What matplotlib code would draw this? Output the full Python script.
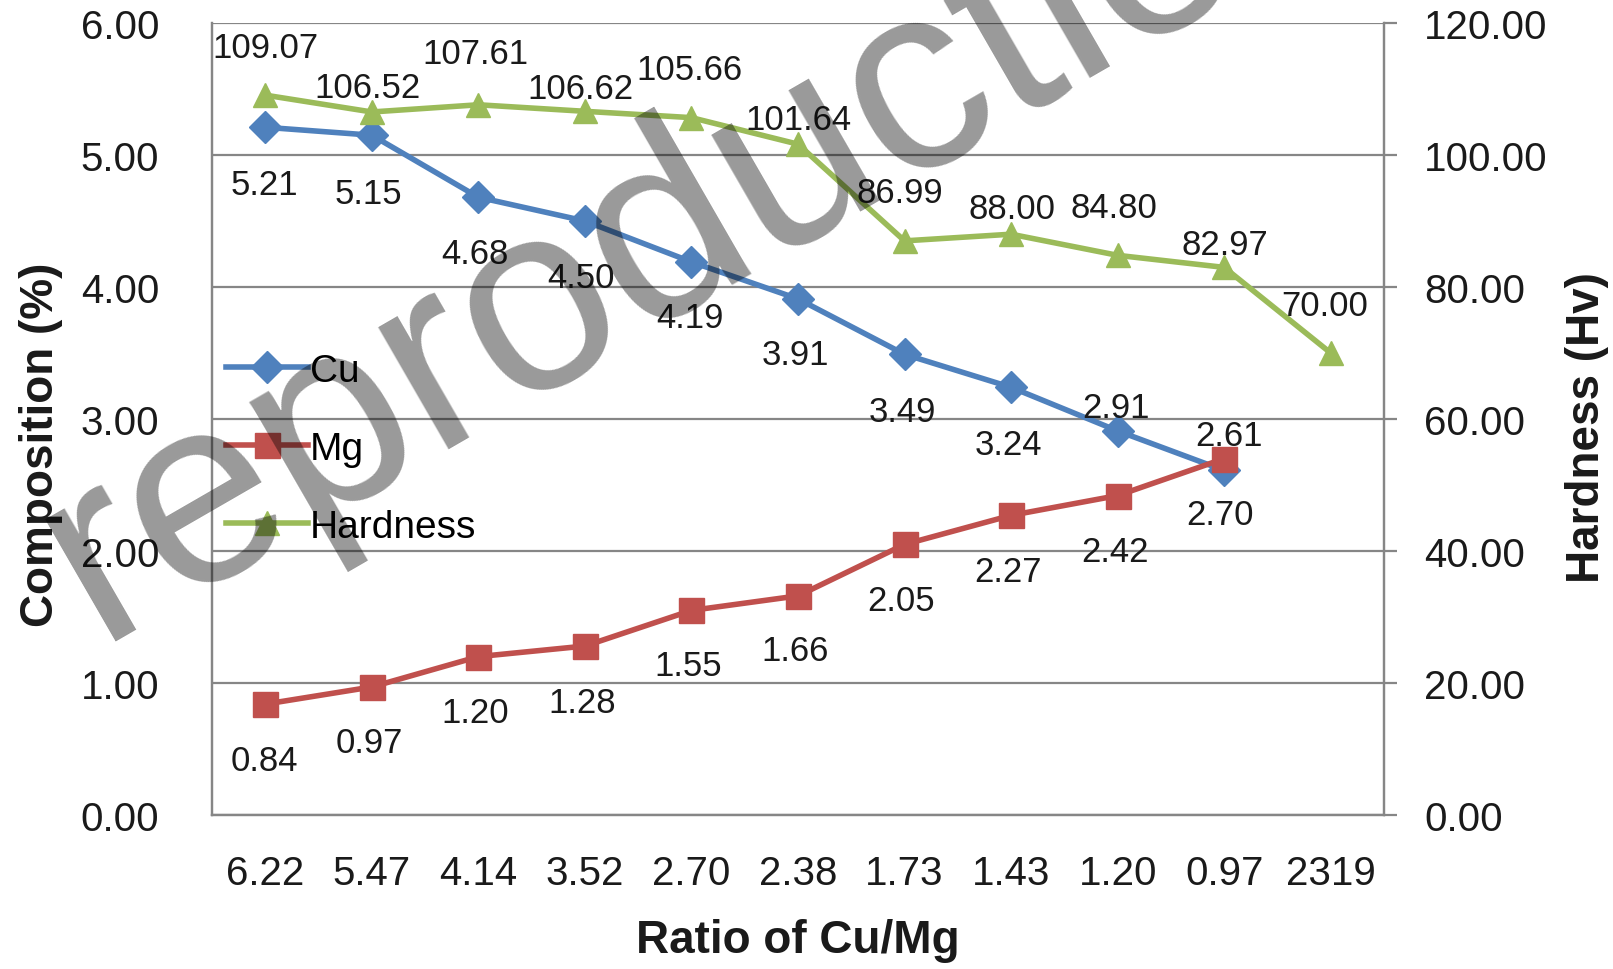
import matplotlib
matplotlib.use("Agg")
import matplotlib.pyplot as plt
from matplotlib.lines import Line2D

plt.rcParams['font.family'] = ['Liberation Sans', 'DejaVu Sans']

# data
ratio_labels = ["6.22", "5.47", "4.14", "3.52", "2.70", "2.38", "1.73", "1.43", "1.20", "0.97", "2319"]
cu = [5.21, 5.15, 4.68, 4.50, 4.19, 3.91, 3.49, 3.24, 2.91, 2.61]
mg = [0.84, 0.97, 1.20, 1.28, 1.55, 1.66, 2.05, 2.27, 2.42, 2.70]
hardness = [109.07, 106.52, 107.61, 106.62, 105.66, 101.64, 86.99, 88.00, 84.80, 82.97, 70.00]

# label offsets in pixels (dx, dy), as placed in the original
cu_off = [(-1, -57), (-3, -58), (-3, -56), (-4, -57), (-2, -56), (-3, -56),
          (-2, -57), (-3, -57), (-2, 23), (5, 35)]
mg_off = [(-1, -56), (-3, -56), (-3, -56), (-3, -56), (-3, -55), (-3, -55),
          (-3, -56), (-3, -56), (-3, -56), (-4, -56)]
hd_off = [(0, 48), (-4, 24), (-3, 51), (-4, 23), (-2, 48), (0, 25),
          (-5, 48), (1, 26), (-4, 48), (1, 23), (-6, 48)]

BLUE = "#4F81BD"
RED = "#C0504D"
GREEN = "#9BBB59"
GRID = "#868686"

W, H = 1613, 970
fig = plt.figure(figsize=(W / 100, H / 100), dpi=100)
ax = fig.add_axes([212 / W, 1 - 816 / H, (1384 - 212) / W, (816 - 24) / H])
ax2 = ax.twinx()

x_cu = list(range(len(cu)))
x_hd = list(range(len(hardness)))

ax.plot(x_cu, cu, color=BLUE, lw=4, marker="D", ms=16, label="Cu", zorder=3)
ax.plot(x_cu, mg, color=RED, lw=4, marker="s", ms=18, label="Mg", zorder=4)
ax2.plot(x_hd, hardness, color=GREEN, lw=4, marker="^", ms=17, label="Hardness", zorder=3)

lab_fs = 25
for xi, v, (dx, dy) in zip(x_cu, cu, cu_off):
    ax.annotate(f"{v:.2f}", (xi, v), xytext=(dx, dy), textcoords="offset pixels",
                ha="center", va="center", fontsize=lab_fs, color="#1a1a1a", zorder=6)
for xi, v, (dx, dy) in zip(x_cu, mg, mg_off):
    ax.annotate(f"{v:.2f}", (xi, v), xytext=(dx, dy), textcoords="offset pixels",
                ha="center", va="center", fontsize=lab_fs, color="#1a1a1a", zorder=6)
for xi, v, (dx, dy) in zip(x_hd, hardness, hd_off):
    ax2.annotate(f"{v:.2f}", (xi, v), xytext=(dx, dy), textcoords="offset pixels",
                 ha="center", va="center", fontsize=lab_fs, color="#1a1a1a", zorder=6)

ax.set_xlim(-0.5, len(ratio_labels) - 0.5)
ax.set_ylim(0, 6)
ax2.set_ylim(0, 120)
ax.set_yticks([0, 1, 2, 3, 4, 5, 6])
ax.set_yticklabels([f"{t:.2f}" for t in range(7)])
ax2.set_yticks([0, 20, 40, 60, 80, 100, 120])
ax2.set_yticklabels([f"{t:.2f}" for t in range(0, 121, 20)])
ax.set_xticks(x_hd)
ax.set_xticklabels(ratio_labels)

ax.grid(axis="y", color=GRID, lw=1.6)
ax.set_axisbelow(True)
ax.tick_params(axis="y", length=0, pad=38, labelsize=29, colors="#1a1a1a")
ax.tick_params(axis="x", length=0, pad=28, labelsize=29, colors="#1a1a1a")
ax2.tick_params(axis="y", length=9, width=1.6, color=GRID, pad=20, labelsize=29,
                labelcolor="#1a1a1a")

for a in (ax, ax2):
    a.spines["top"].set_visible(False)
    for s in ("left", "right", "bottom"):
        a.spines[s].set_color(GRID)
        a.spines[s].set_linewidth(1.6)

fig.text(41 / W, 1 - 445 / H, "Composition (%)", rotation=90, ha="center", va="center",
         fontsize=33, fontweight="bold", color="#1a1a1a")
fig.text(1587 / W, 1 - 428 / H, "Hardness (Hv)", rotation=90, ha="center", va="center",
         fontsize=33, fontweight="bold", color="#1a1a1a")
fig.text(798 / W, 1 - 941 / H, "Ratio of Cu/Mg", ha="center", va="center",
         fontsize=33, fontweight="bold", color="#1a1a1a")

handles = [
    Line2D([], [], color=BLUE, lw=4, marker="D", ms=16),
    Line2D([], [], color=RED, lw=4, marker="s", ms=18),
    Line2D([], [], color=GREEN, lw=4, marker="^", ms=17),
]
leg = ax2.legend(handles, ["Cu", "Mg", "Hardness"], loc="center left",
                 bbox_to_anchor=(226 / W, 1 - 450 / H), bbox_transform=fig.transFigure,
                 frameon=False, fontsize=28, handlelength=2.1, handletextpad=0.05,
                 labelspacing=1.08, borderpad=0, borderaxespad=0)
leg.set_zorder(7)

# watermark across the figure
fig.text(98 / W, 1 - 642 / H, "reproduction", rotation=30, rotation_mode="anchor",
         ha="left", va="baseline", fontsize=192, color="black", alpha=0.4, zorder=20)

fig.savefig("out.png", dpi=100, facecolor="white")
